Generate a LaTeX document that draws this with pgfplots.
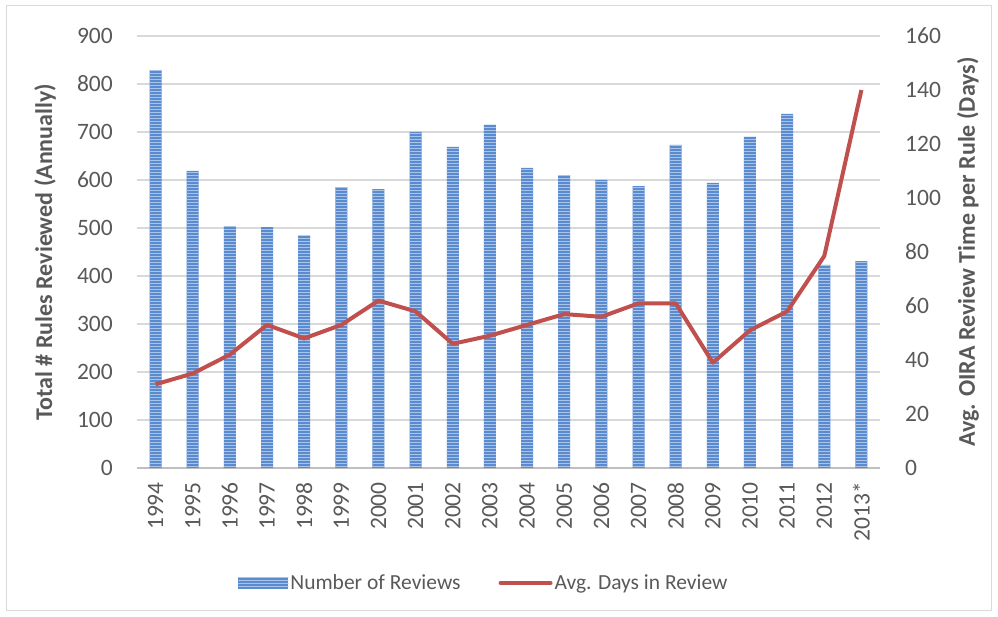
\documentclass[border=0pt]{standalone}
\usepackage{fontspec}
\setmainfont{Carlito}
\usepackage{pgfplots}
\pgfplotsset{compat=1.18}
\usetikzlibrary{patterns}
\definecolor{barblue}{HTML}{5B8BCF}
\definecolor{barlight}{HTML}{A9C4E8}
\definecolor{linered}{HTML}{C0504D}
\definecolor{txt}{HTML}{595959}
\definecolor{gridc}{HTML}{D9D9D9}
\definecolor{axc}{HTML}{BFBFBF}
\begin{document}
\begin{tikzpicture}
\path (0pt,0pt) rectangle (998pt,617pt);
\draw[gridc, line width=1pt] (6.5pt,6pt) rectangle (991pt,611pt);
\begin{axis}[at={(137pt,149pt)}, anchor=south west, scale only axis,
  width=743pt, height=432pt,
  xmin=-0.5, xmax=19.5, ymin=0, ymax=900, ytick={0,100,...,900},
  xtick={0,...,19},
  xticklabels={1994,1995,1996,1997,1998,1999,2000,2001,2002,2003,2004,2005,2006,2007,2008,2009,2010,2011,2012,2013*},
  x tick label style={rotate=90, anchor=east, inner sep=0pt, xshift=-14pt},
  yticklabel style={inner sep=0pt, xshift=-24pt, anchor=east},
  tick label style={font=\fontsize{23.5}{28}\selectfont, text=txt},
  /pgf/number format/assume math mode=true,
  major tick length=0pt,
  axis x line*=bottom, axis y line*=left,
  x axis line style={draw=axc, line width=1.5pt, -},
  y axis line style={draw=none},
  ymajorgrids, grid style={gridc, line width=1.2pt},
  ylabel={Total \# Rules Reviewed (Annually)},
  ylabel style={font=\bfseries\fontsize{24}{28}\selectfont, text=txt, at={(axis description cs:0,0.5)}, yshift=92pt, anchor=center},
  ybar, bar width=12pt,
]
\addplot[fill=barblue, draw=none, postaction={pattern=horizontal lines, pattern color=barlight}] coordinates {
(0,829) (1,619) (2,504) (3,502) (4,484) (5,585) (6,581) (7,700) (8,669) (9,715)
(10,625) (11,610) (12,600) (13,587) (14,673) (15,594) (16,690) (17,738) (18,423) (19,431)};
\end{axis}
\begin{axis}[at={(137pt,149pt)}, anchor=south west, scale only axis,
  width=743pt, height=432pt,
  xmin=-0.5, xmax=19.5, ymin=0, ymax=160, ytick={0,20,...,160},
  axis x line=none, axis y line*=right,
  y axis line style={draw=none},
  major tick length=0pt,
  yticklabel style={inner sep=0pt, xshift=25pt, anchor=west},
  tick label style={font=\fontsize{23.5}{28}\selectfont, text=txt},
  /pgf/number format/assume math mode=true,
  ylabel={Avg. OIRA Review Time per Rule (Days)},
  ylabel style={font=\bfseries\fontsize{24}{28}\selectfont, text=txt, at={(axis description cs:1,0.5)}, yshift=-88pt, anchor=center},
  legend style={at={(0.467,-0.266)}, anchor=center, draw=none, fill=none, legend columns=2,
     font=\fontsize{21.5}{26}\selectfont, text=txt,
     /tikz/every even column/.append style={column sep=36pt}},
  legend cell align=left,
]
\addlegendimage{legend image code/.code={\path[fill=barblue, draw=none] (0pt,-6pt) rectangle (50pt,6pt);
  \path[pattern=horizontal lines, pattern color=barlight, draw=none] (0pt,-6pt) rectangle (50pt,6pt);}}
\addlegendentry{Number of Reviews}
\addplot[linered, line width=4pt, line join=round, mark=none,
  legend image code/.code={\draw[linered, line width=4pt, line cap=round] (0pt,0pt) -- (50pt,0pt);}] coordinates {
(0,31) (1,35) (2,42) (3,53) (4,48) (5,53) (6,62) (7,58) (8,46) (9,49)
(10,53) (11,57) (12,56) (13,61) (14,61) (15,39) (16,51) (17,58) (18,78.5) (19,140)};
\addlegendentry{Avg. Days in Review}
\end{axis}
\end{tikzpicture}
\end{document}
